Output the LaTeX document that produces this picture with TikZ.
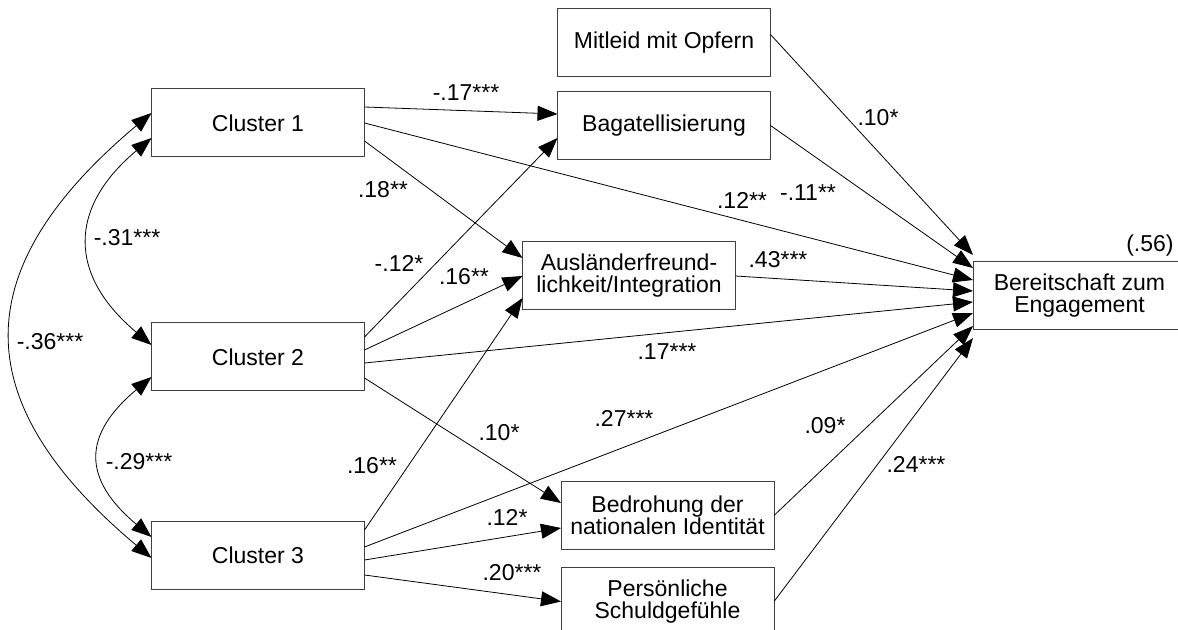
\documentclass[tikz,border=0pt]{standalone}
\usepackage{fontspec}
\setmainfont{Liberation Sans}
\usetikzlibrary{
  positioning,
  arrows.meta
}

\begin{document}
\begin{tikzpicture}[
  node distance=40pt and 90pt,
  font=\fontsize{11.5}{11}\selectfont,
  var/.style={
    draw=black!75,
    line width=0.5pt,
    minimum width=106.5pt,
    minimum height=34pt,
    inner sep=0pt,
    outer sep=0pt,
    align=center
  },
  arrow/.style={-{Triangle[length=10pt,width=7.5pt]}, line width=0.4pt},
  corr/.style={{Triangle[length=10pt,width=7.5pt]}-{Triangle[length=10pt,width=7.5pt]}, line width=0.4pt},
  coef/.style={inner sep=0pt}
]
\useasboundingbox (0,0) rectangle (589pt,-315pt);

% Cluster
\node[var] (c1) at (129pt,-61.5pt) {Cluster 1};
\node[var, below=83pt of c1] (c2) {Cluster 2};
\node[var, below=65pt of c2] (c3) {Cluster 3};

% Mediatoren
\node[var, right=96.5pt of c1, yshift=-1.25pt] (bagat) {Bagatellisierung};
\node[var, above=7.5pt of bagat] (mitleid) {Mitleid mit Opfern};
\node[var, below=41.25pt of bagat, xshift=-17.5pt] (ausl) {Ausländerfreund-\\lichkeit/Integration};
\node[var, right=98.25pt of c3, yshift=19.75pt] (bedro) {Bedrohung der\\nationalen Identität};
\node[var, below=9pt of bedro] (pers) {Persönliche\\Schuldgefühle};

% Kriterium
\node[var, right=118.75pt of ausl, yshift=-10pt] (bereit) {Bereitschaft zum\\Engagement};
\node[coef, above left=2.5pt and 6pt of bereit.north east] (r2) {(.56)};

% Korrelationen
\draw[corr] ([yshift=5pt]c1.west) to[out=220, in=140, looseness=1.4] ([yshift=-1.5pt]c3.west);
\draw[corr] ([yshift=-7.5pt]c1.west) to[out=220, in=140, looseness=1.35] ([yshift=6pt]c2.west);
\draw[corr] ([yshift=-10pt]c2.west) to[out=220, in=140, looseness=1.45] ([yshift=9pt]c3.west);

% Pfade
\draw[arrow] ([yshift=8pt]c1.east) -- ([yshift=5.75pt]bagat.west);
\draw[arrow] (c1.east) -- ([yshift=8pt]bereit.west);
\draw[arrow] ([yshift=-9pt]c1.east) -- ([yshift=9pt]ausl.west);
\draw[arrow] ([yshift=10pt]c2.east) -- ([yshift=-6.25pt]bagat.west);
\draw[arrow] ([yshift=3.5pt]c2.east) -- (ausl.west);
\draw[arrow] ([yshift=-3pt]c2.east) -- ([yshift=-3pt]bereit.west);
\draw[arrow] ([yshift=-10.5pt]c2.east) -- ([yshift=6.25pt]bedro.west);
\draw[arrow] ([yshift=12.5pt]c3.east) -- ([yshift=-11pt]ausl.west);
\draw[arrow] ([yshift=4pt]c3.east) -- ([yshift=-8.5pt]bereit.west);
\draw[arrow] ([yshift=-2.5pt]c3.east) -- ([yshift=-6.25pt]bedro.west);
\draw[arrow] ([yshift=-10pt]c3.east) -- (pers.west);
\draw[arrow] ([yshift=4pt]mitleid.east) -- ([yshift=20.5pt]bereit.west);
\draw[arrow] (bagat.east) -- ([yshift=14pt]bereit.west);
\draw[arrow] (ausl.east) -- ([yshift=2.5pt]bereit.west);
\draw[arrow] (bedro.east) -- ([yshift=-15pt]bereit.west);
\draw[arrow] (pers.east) -- ([yshift=-21pt]bereit.west);

% Koeffizienten
\node[coef] (k36) at (25pt,-171pt) {-.36***};
\node[coef] (k31) at (63.5pt,-119pt) {-.31***};
\node[coef] (k29) at (69.5pt,-231pt) {-.29***};
\node[coef] (k17a) at (233pt,-46.5pt) {-.17***};
\node[coef] (k18) at (191.5pt,-95pt) {.18**};
\node[coef] (k12a) at (199.5pt,-131.5pt) {-.12*};
\node[coef] (k16a) at (232pt,-138.5pt) {.16**};
\node[coef] (k12b) at (371pt,-100pt) {.12**};
\node[coef] (k11) at (404pt,-96.5pt) {-.11**};
\node[coef] (k43) at (389pt,-130pt) {.43***};
\node[coef] (k10a) at (439pt,-59pt) {.10*};
\node[coef] (k17b) at (333.5pt,-176pt) {.17***};
\node[coef] (k10b) at (249.5pt,-216.5pt) {.10*};
\node[coef] (k27) at (312pt,-209pt) {.27***};
\node[coef] (k16b) at (186pt,-233pt) {.16**};
\node[coef] (k12c) at (253.5pt,-258.5pt) {.12*};
\node[coef] (k20) at (256pt,-286.5pt) {.20***};
\node[coef] (k09) at (412.5pt,-213pt) {.09*};
\node[coef] (k24) at (458pt,-232pt) {.24***};

\end{tikzpicture}
\end{document}
